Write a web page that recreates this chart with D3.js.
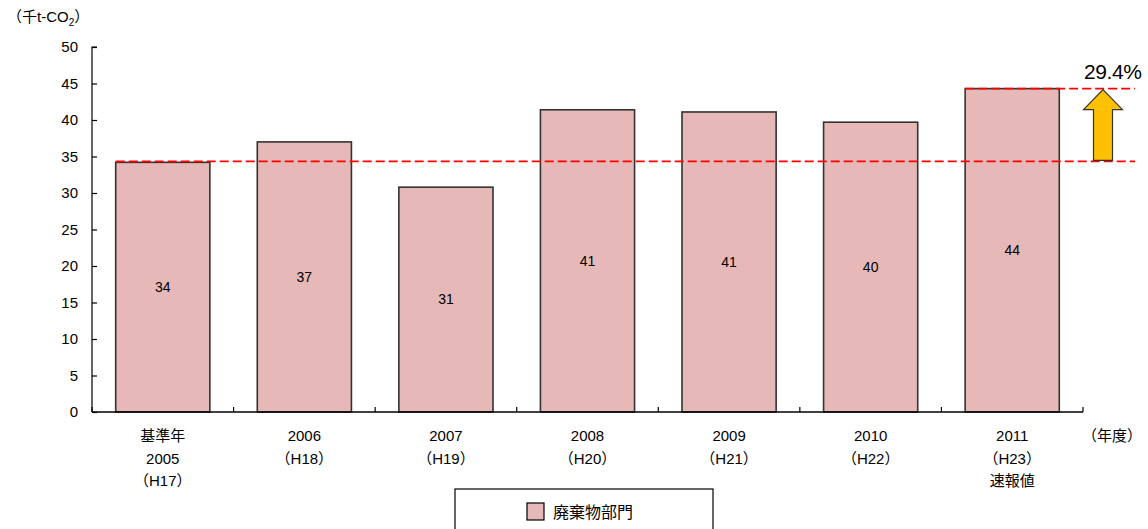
<!DOCTYPE html>
<html><head><meta charset="utf-8">
<script src="https://cdn.jsdelivr.net/npm/d3@7"></script>
<style>
body{margin:0;background:#fff;}
svg text{font-family:"Liberation Sans","Noto Sans CJK JP",sans-serif;fill:#000;}
</style></head>
<body>
<svg id="chart" width="1148" height="529"></svg>
<script>
// 廃棄物部門 CO2 排出量（千t-CO2）
const years = ["2005","2006","2007","2008","2009","2010","2011"];
const yearLabels = [
  ["基準年","2005","（H17）"],
  ["2006","（H18）"],
  ["2007","（H19）"],
  ["2008","（H20）"],
  ["2009","（H21）"],
  ["2010","（H22）"],
  ["2011","（H23）","速報値"]
];
const emissions = [34.2, 37.0, 30.8, 41.4, 41.1, 39.7, 44.3];
const yTicks = [0,5,10,15,20,25,30,35,40,45,50];
const seriesName = "廃棄物部門";
const changeLabel = "29.4%";

const svg = d3.select("#chart");
const m = {left:92, right:1083, top:47, bottom:412};

const x = d3.scaleBand().domain(years).range([m.left, m.right]).paddingInner(0.335).paddingOuter(0.1675);
const y = d3.scaleLinear().domain([0,50]).range([m.bottom, m.top]);

// bars
svg.append("g").selectAll("rect").data(emissions).join("rect")
  .attr("x",(d,i)=>x(years[i]))
  .attr("y",d=>y(d))
  .attr("width",x.bandwidth())
  .attr("height",d=>y(0)-y(d))
  .attr("fill","#E6B8B7")
  .attr("stroke","#333")
  .attr("stroke-width",1.6);

// value labels
svg.append("g").selectAll("text").data(emissions).join("text")
  .attr("x",(d,i)=>x(years[i])+x.bandwidth()/2)
  .attr("y",d=>(y(d)+y(0))/2)
  .attr("dy","0.35em")
  .attr("text-anchor","middle")
  .style("font-size","14px")
  .text(d=>d3.format(".0f")(d));

// y axis
const yAxis = svg.append("g").attr("transform",`translate(${m.left},0)`)
  .call(d3.axisLeft(y).tickValues(yTicks).tickSize(-5).tickPadding(14));
yAxis.selectAll("text").style("font-size","15px");
yAxis.selectAll("line,path").attr("stroke","#000").attr("stroke-width",1.2);
yAxis.select("path").attr("d",`M0,${m.bottom}V${m.top}h5`);

// x axis line and ticks at band boundaries
const xg = svg.append("g");
xg.append("line").attr("x1",m.left).attr("x2",m.right).attr("y1",m.bottom).attr("y2",m.bottom)
  .attr("stroke","#000").attr("stroke-width",1.4);
const step = x.step();
xg.selectAll("line.t").data(d3.range(years.length+1)).join("line").attr("class","t")
  .attr("x1",i=>m.left+i*step).attr("x2",i=>m.left+i*step)
  .attr("y1",m.bottom).attr("y2",m.bottom-5)
  .attr("stroke","#000").attr("stroke-width",1.2);

// category labels
const cl = svg.append("g").selectAll("text").data(yearLabels).join("text")
  .attr("x",(d,i)=>x(years[i])+x.bandwidth()/2)
  .attr("y",441)
  .attr("text-anchor","middle")
  .style("font-size","15px");
cl.selectAll("tspan").data(d=>d).join("tspan")
  .attr("x",function(){return this.parentNode.getAttribute("x");})
  .attr("dy",(d,i)=>i===0?0:22.5)
  .text(d=>d);

svg.append("text").attr("x",1082).attr("y",441).style("font-size","15px").text("（年度）");

// unit label
const ut = svg.append("text").attr("x",7).attr("y",22).style("font-size","15px");
ut.append("tspan").text("（千t-CO");
ut.append("tspan").attr("dy",4).style("font-size","10px").text("2");
ut.append("tspan").attr("dy",-4).text("）");

// reference lines: base year and latest year
const base = emissions[0], last = emissions[emissions.length-1];
svg.append("line").attr("x1",x(years[0])).attr("x2",1135)
  .attr("y1",y(base)-1).attr("y2",y(base)-1)
  .attr("stroke","#FF0000").attr("stroke-width",1.8).attr("stroke-dasharray","9,4");
svg.append("line").attr("x1",x(years[6])).attr("x2",1135)
  .attr("y1",y(last)).attr("y2",y(last))
  .attr("stroke","#FF0000").attr("stroke-width",1.8).attr("stroke-dasharray","9,4");

// increase arrow
const ax = 1103, arrowTop = y(last)+1, arrowBot = y(base)-2, headH = 20, headW = 19.5, shaftW = 9.5;
svg.append("path")
  .attr("d",`M${ax},${arrowTop} L${ax+headW},${arrowTop+headH} L${ax+shaftW},${arrowTop+headH} L${ax+shaftW},${arrowBot} L${ax-shaftW},${arrowBot} L${ax-shaftW},${arrowTop+headH} L${ax-headW},${arrowTop+headH} Z`)
  .attr("fill","#FFC000").attr("stroke","#333").attr("stroke-width",1.2);
svg.append("text").attr("x",1113).attr("y",79).attr("text-anchor","middle")
  .style("font-size","21px").attr("textLength",58).text(changeLabel);

// legend
const lg = svg.append("g");
lg.append("rect").attr("x",455).attr("y",489).attr("width",258).attr("height",50)
  .attr("fill","#fff").attr("stroke","#000").attr("stroke-width",1.2);
lg.append("rect").attr("x",527).attr("y",503).attr("width",17).attr("height",17)
  .attr("fill","#E6B8B7").attr("stroke","#000").attr("stroke-width",1.2);
lg.append("text").attr("x",553).attr("y",518).style("font-size","16px").text(seriesName);
</script>
</body></html>
